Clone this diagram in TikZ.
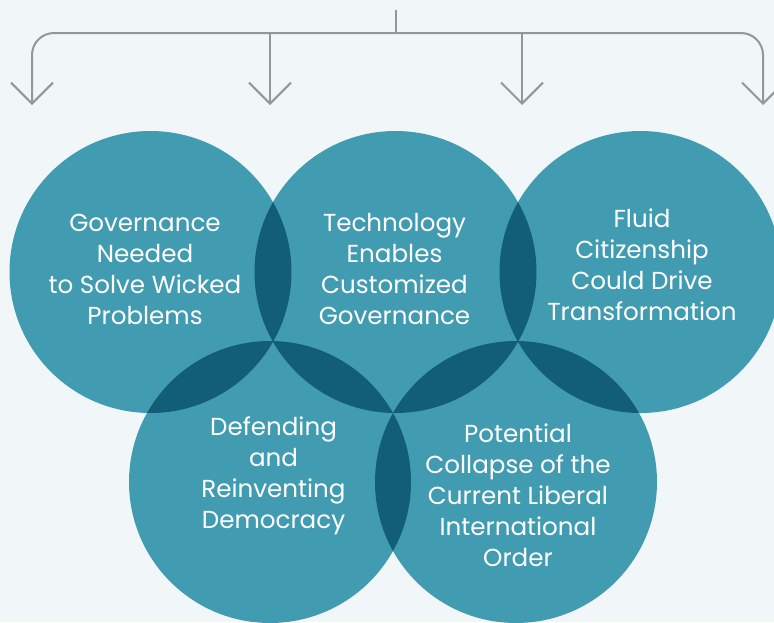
\documentclass[tikz,border=0pt]{standalone}
\usepackage{fontspec}
\setmainfont{Poppins}
\usetikzlibrary{arrows.meta}
\definecolor{canvasbg}{HTML}{F1F6F9}
\definecolor{discfill}{HTML}{429CB1}
\definecolor{lensfill}{HTML}{135E77}
\definecolor{wiregrey}{HTML}{939799}
\tikzset{
    disc/.style={fill=discfill},
    lens/.style={fill=lensfill},
    caption/.style={text=white, align=center, inner sep=0pt,
                    font=\fontsize{24.6}{31}\selectfont},
    wire/.style={draw=wiregrey, line width=2pt},
    flow/.style={wire, -{Straight Barb[length=21pt, width=42pt]}},
}
\newcommand{\lens}[2]{
    \begin{scope}
        \clip (#1) circle (141pt);
        \fill[lens] (#2) circle (141pt);
    \end{scope}
}

\begin{document}
\begin{tikzpicture}[x=1pt, y=-1pt]
    \fill[canvasbg] (0,0) rectangle (774,622);
    \useasboundingbox (0,0) rectangle (774,622);
    \clip (0,0) rectangle (774,622);

    % fan of arrows on top
    \coordinate (stub) at (396,10);
    \coordinate (hub) at (396,33);
    \coordinate (tipA) at (32,105);
    \coordinate (tipB) at (270,105);
    \coordinate (tipC) at (522,105);
    \coordinate (tipD) at (763,105);
    \draw[wire] (stub) -- (hub);
    \draw[flow, rounded corners=22pt] (hub) -| (tipA);
    \draw[flow, rounded corners=22pt] (hub) -| (tipD);
    \draw[flow] (tipB |- hub) -- (tipB);
    \draw[flow] (tipC |- hub) -- (tipC);

    % circles
    \coordinate (gov) at (150.5,272);
    \coordinate (tech) at (395.5,272);
    \coordinate (fluid) at (640.5,272);
    \coordinate (demo) at (270,482);
    \coordinate (order) at (516,482);
    \foreach \c in {gov,tech,fluid,demo,order}
        \fill[disc] (\c) circle (141pt);
    \lens{gov}{tech}
    \lens{tech}{fluid}
    \lens{gov}{demo}
    \lens{tech}{demo}
    \lens{tech}{order}
    \lens{demo}{order}
    \lens{fluid}{order}

    % texts
    \node[caption] (gov-text) at (145,269)
        {Governance\\Needed\\to Solve Wicked\\Problems};
    \node[caption] (tech-text) at (394.5,269)
        {Technology\\Enables\\Customized\\Governance};
    \node[caption] (fluid-text) at (642,265)
        {Fluid\\Citizenship\\Could Drive\\Transformation};
    \node[caption] (demo-text) at (273.5,475.5)
        {Defending\\and\\Reinventing\\Democracy};
    \node[caption] (order-text) at (518,495.5)
        {Potential\\Collapse of the\\Current Liberal\\International\\Order};
\end{tikzpicture}
\end{document}
